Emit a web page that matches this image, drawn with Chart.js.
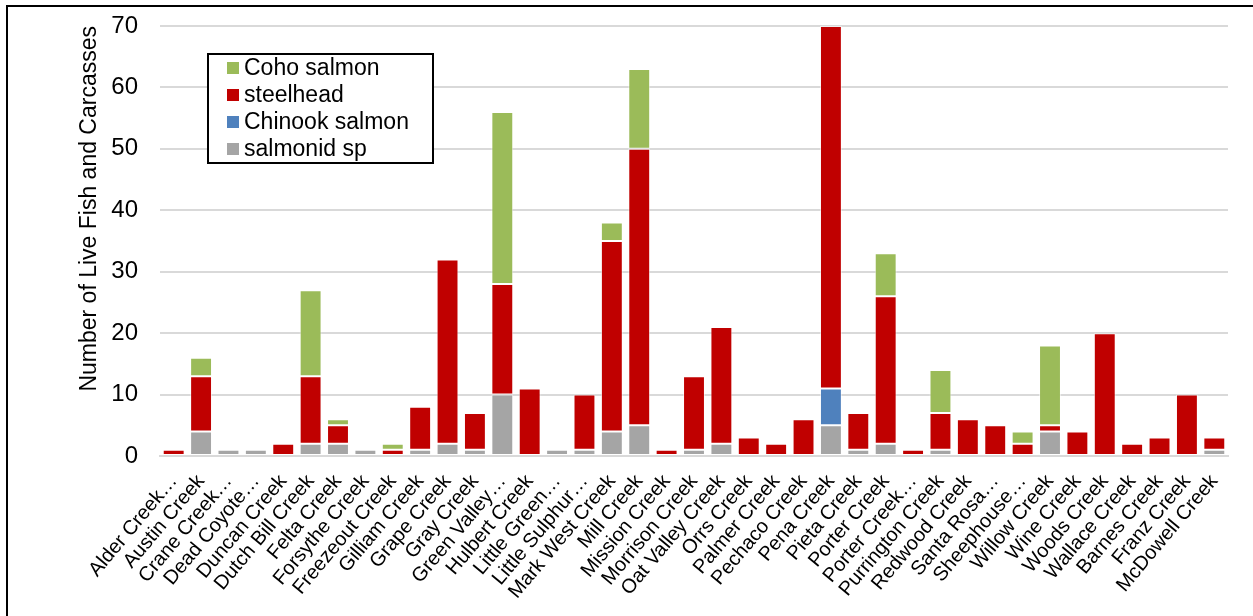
<!DOCTYPE html>
<html>
<head>
<meta charset="utf-8">
<script src="https://cdn.jsdelivr.net/npm/chart.js@4/dist/chart.umd.min.js"></script>
<style>
  html, body { margin: 0; padding: 0; background: #fff; }
  #wrap { width: 1253px; height: 616px; position: relative; }
</style>
</head>
<body>
<div id="wrap"><canvas id="c" width="1253" height="616"></canvas></div>
<script>
// Stream names along the x axis
const categories = [
  "Alder Creek…", "Austin Creek", "Crane Creek…", "Dead Coyote…", "Duncan Creek",
  "Dutch Bill Creek", "Felta Creek", "Forsythe Creek", "Freezeout Creek", "Gilliam Creek",
  "Grape Creek", "Gray Creek", "Green Valley…", "Hulbert Creek", "Little Green…",
  "Little Sulphur…", "Mark West Creek", "Mill Creek", "Mission Creek", "Morrison Creek",
  "Oat Valley Creek", "Orrs Creek", "Palmer Creek", "Pechaco Creek", "Pena Creek",
  "Pieta Creek", "Porter Creek", "Porter Creek…", "Purrington Creek", "Redwood Creek",
  "Santa Rosa…", "Sheephouse…", "Willow Creek", "Wine Creek", "Woods Creek",
  "Wallace Creek", "Barnes Creek", "Franz Creek", "McDowell Creek"
];

// Counts per species (stacked bottom to top: salmonid sp, Chinook, steelhead, Coho)
const salmonidSp = [0,4,1,1,0, 2,2,1,0,1, 2,1,10,0,1, 1,4,5,0,1, 2,0,0,0,5, 1,2,0,1,0, 0,0,4,0,0, 0,0,0,1];
const chinook    = [0,0,0,0,0, 0,0,0,0,0, 0,0,0,0,0, 0,0,0,0,0, 0,0,0,0,6, 0,0,0,0,0, 0,0,0,0,0, 0,0,0,0];
const steelhead  = [1,9,0,0,2, 11,3,0,1,7, 30,6,18,11,0, 9,31,45,1,12, 19,3,2,6,59, 6,24,1,6,6, 5,2,1,4,20, 2,3,10,2];
const coho       = [0,3,0,0,0, 14,1,0,1,0, 0,0,28,0,0, 0,3,13,0,0, 0,0,0,0,0, 0,7,0,7,0, 0,2,13,0,0, 0,0,0,0];

// Y axis ticks
const yTicks = [0, 10, 20, 30, 40, 50, 60, 70];

const FONT = "'Liberation Sans', Arial, sans-serif";

function ds(label, data, color) {
  return {
    label, data,
    backgroundColor: color,
    borderColor: 'rgba(255,255,255,0.55)',
    borderWidth: (c) => (c.raw ? 1 : 0),
    borderSkipped: false,
    categoryPercentage: 0.8,
    barPercentage: 1.0
  };
}

// Outer frame around the whole figure
const framePlugin = {
  id: 'frame',
  beforeDraw(chart) {
    const ctx = chart.ctx;
    ctx.save();
    ctx.fillStyle = '#fff';
    ctx.fillRect(0, 0, chart.width, chart.height);
    ctx.strokeStyle = '#000';
    ctx.lineWidth = 2;
    ctx.strokeRect(7, 6, chart.width + 10, chart.height + 10);
    ctx.restore();
  }
};

// Boxed legend inside the plot, listed top-down from the top of the stack
const boxLegend = {
  id: 'boxLegend',
  afterDraw(chart) {
    const ctx = chart.ctx;
    const x = 208, y = 54, w = 225, h = 109;
    ctx.save();
    ctx.fillStyle = '#fff';
    ctx.fillRect(x, y, w, h);
    ctx.strokeStyle = '#000';
    ctx.lineWidth = 2;
    ctx.strokeRect(x, y, w, h);
    const items = chart.data.datasets.slice().reverse();
    ctx.font = '23px ' + FONT;
    ctx.textBaseline = 'middle';
    items.forEach((d, i) => {
      const cy = y + 14 + i * 27;
      ctx.fillStyle = d.backgroundColor;
      ctx.fillRect(x + 19, cy - 6, 12, 12);
      ctx.fillStyle = '#000';
      ctx.fillText(d.label, x + 36, cy + 1);
    });
    ctx.restore();
  }
};

new Chart(document.getElementById('c'), {
  type: 'bar',
  data: {
    labels: categories,
    datasets: [
      ds('salmonid sp', salmonidSp, '#A5A5A5'),
      ds('Chinook salmon', chinook, '#4F81BD'),
      ds('steelhead', steelhead, '#C00000'),
      ds('Coho salmon', coho, '#9BBB59')
    ]
  },
  options: {
    responsive: false,
    animation: false,
    devicePixelRatio: 1,
    layout: { padding: { left: 72, right: 25, top: 26, bottom: 0 } },
    plugins: {
      legend: { display: false },
      tooltip: { enabled: false }
    },
    scales: {
      x: {
        stacked: true,
        grid: { display: false, drawTicks: false },
        border: { display: true, color: '#D9D9D9', width: 2 },
        ticks: {
          color: '#000',
          font: { family: FONT, size: 20 },
          minRotation: 50,
          maxRotation: 50,
          autoSkip: false,
          padding: 14
        },
        afterFit(s) { s.height = 160; s.paddingLeft = 0; s.paddingRight = 0; }
      },
      y: {
        stacked: true,
        min: 0,
        max: 70,
        afterBuildTicks(s) { s.ticks = yTicks.map(v => ({ value: v })); },
        grid: { color: '#D9D9D9', lineWidth: 2, drawTicks: false },
        border: { display: false },
        ticks: {
          color: '#000',
          font: { family: FONT, size: 24 },
          padding: 22
        },
        title: {
          display: true,
          text: 'Number of Live Fish and Carcasses',
          color: '#000',
          align: 'end',
          font: { family: FONT, size: 23 },
          padding: { top: 4, bottom: 0 }
        },
        afterFit(s) { s.width = 88; s.paddingTop = 0; s.paddingBottom = 0; }
      }
    }
  },
  plugins: [framePlugin, boxLegend]
});
</script>
</body>
</html>
